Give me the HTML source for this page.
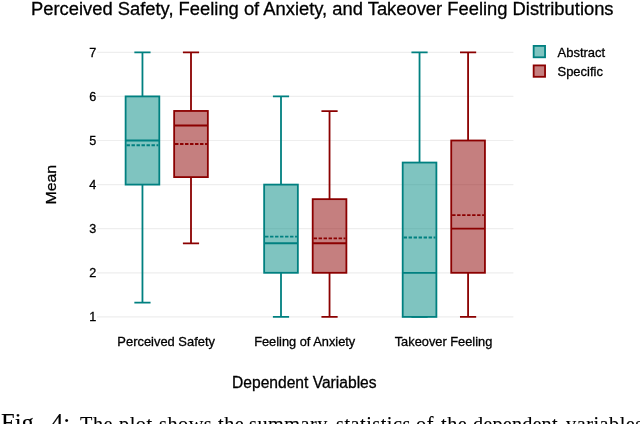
<!DOCTYPE html>
<html lang="en">
<head>
<meta charset="utf-8">
<title>Perceived Safety, Feeling of Anxiety, and Takeover Feeling Distributions</title>
<style>
html,body{margin:0;padding:0;background:#fff;}
body{width:640px;height:424px;overflow:hidden;position:relative;}
svg{position:absolute;left:0;top:0;display:block;will-change:transform;}
svg text{font-family:"Liberation Sans",Arial,Helvetica,sans-serif;fill:#000;stroke:#000;stroke-width:0.3px;}
.cap{position:absolute;will-change:transform;white-space:pre;font-family:"Liberation Serif","Times New Roman",serif;color:#000;line-height:1;-webkit-text-stroke:0.12px #000;}
</style>
</head>
<body>
<svg width="640" height="424" viewBox="0 0 640 424">
<rect width="640" height="424" fill="#fff"/>
<text x="322.3" y="15.0" text-anchor="middle" font-size="18.3" textLength="582.5" lengthAdjust="spacingAndGlyphs">Perceived Safety, Feeling of Anxiety, and Takeover Feeling Distributions</text>
<g stroke="#eeeeee" stroke-width="1.2">
<line x1="97.0" x2="513.4" y1="316.90" y2="316.90"/>
<line x1="97.0" x2="513.4" y1="272.80" y2="272.80"/>
<line x1="97.0" x2="513.4" y1="228.70" y2="228.70"/>
<line x1="97.0" x2="513.4" y1="184.60" y2="184.60"/>
<line x1="97.0" x2="513.4" y1="140.50" y2="140.50"/>
<line x1="97.0" x2="513.4" y1="96.40" y2="96.40"/>
<line x1="97.0" x2="513.4" y1="52.30" y2="52.30"/>
</g>
<g font-size="12.6" text-anchor="end">
<text x="96.2" y="321.30">1</text>
<text x="96.2" y="277.20">2</text>
<text x="96.2" y="233.10">3</text>
<text x="96.2" y="189.00">4</text>
<text x="96.2" y="144.90">5</text>
<text x="96.2" y="100.80">6</text>
<text x="96.2" y="56.70">7</text>
</g>
<g stroke="#008080" stroke-width="1.8" fill="none">
<path d="M142.46 96.40V52.30M134.36 52.30H150.56M142.46 184.60V302.57M134.36 302.57H150.56"/>
<rect x="125.61" y="96.40" width="33.70" height="88.20" fill="#008981" fill-opacity="0.5"/>
<path d="M125.61 140.50H159.31"/>
<path d="M126.51 145.22H158.41" stroke-width="1.9" stroke-dasharray="3.4 1.6"/>
</g>
<g stroke="#8b0000" stroke-width="1.8" fill="none">
<path d="M191.00 110.95V52.30M182.90 52.30H199.10M191.00 177.10V243.39M182.90 243.39H199.10"/>
<rect x="174.15" y="110.95" width="33.70" height="66.15" fill="#8b0000" fill-opacity="0.5"/>
<path d="M174.15 125.51H207.85"/>
<path d="M175.05 143.94H206.95" stroke-width="1.9" stroke-dasharray="3.4 1.6"/>
</g>
<g stroke="#008080" stroke-width="1.8" fill="none">
<path d="M281.00 184.60V96.40M272.90 96.40H289.10M281.00 272.80V316.90M272.90 316.90H289.10"/>
<rect x="264.15" y="184.60" width="33.70" height="88.20" fill="#008981" fill-opacity="0.5"/>
<path d="M264.15 243.25H297.85"/>
<path d="M265.05 236.64H296.95" stroke-width="1.9" stroke-dasharray="3.4 1.6"/>
</g>
<g stroke="#8b0000" stroke-width="1.8" fill="none">
<path d="M329.54 199.15V111.09M321.44 111.09H337.64M329.54 272.80V316.90M321.44 316.90H337.64"/>
<rect x="312.69" y="199.15" width="33.70" height="73.65" fill="#8b0000" fill-opacity="0.5"/>
<path d="M312.69 243.25H346.39"/>
<path d="M313.59 238.40H345.49" stroke-width="1.9" stroke-dasharray="3.4 1.6"/>
</g>
<g stroke="#008080" stroke-width="1.8" fill="none">
<path d="M419.54 162.55V52.30M411.44 52.30H427.64M419.54 316.90V316.90M411.44 316.90H427.64"/>
<rect x="402.69" y="162.55" width="33.70" height="154.35" fill="#008981" fill-opacity="0.5"/>
<path d="M402.69 272.80H436.39"/>
<path d="M403.59 237.52H435.49" stroke-width="1.9" stroke-dasharray="3.4 1.6"/>
</g>
<g stroke="#8b0000" stroke-width="1.8" fill="none">
<path d="M468.08 140.50V52.30M459.98 52.30H476.18M468.08 272.80V316.90M459.98 316.90H476.18"/>
<rect x="451.23" y="140.50" width="33.70" height="132.30" fill="#8b0000" fill-opacity="0.5"/>
<path d="M451.23 228.70H484.93"/>
<path d="M452.13 215.16H484.03" stroke-width="1.9" stroke-dasharray="3.4 1.6"/>
</g>
<g font-size="12.7" text-anchor="middle">
<text x="166.18" y="345.6" textLength="97.6" lengthAdjust="spacingAndGlyphs">Perceived Safety</text>
<text x="304.72" y="345.6" textLength="101.1" lengthAdjust="spacingAndGlyphs">Feeling of Anxiety</text>
<text x="443.51" y="345.6" textLength="97.6" lengthAdjust="spacingAndGlyphs">Takeover Feeling</text>
</g>
<text x="304.3" y="388.3" font-size="15.8" text-anchor="middle" textLength="144.6" lengthAdjust="spacingAndGlyphs">Dependent Variables</text>
<text transform="translate(56.4 184.7) rotate(-90)" font-size="15.4" text-anchor="middle" textLength="39.7" lengthAdjust="spacingAndGlyphs">Mean</text>
<rect x="533.65" y="45.9" width="11.4" height="11.4" fill="#008981" fill-opacity="0.5" stroke="#008080" stroke-width="1.8"/>
<rect x="533.65" y="65.4" width="11.4" height="11.4" fill="#8b0000" fill-opacity="0.5" stroke="#8b0000" stroke-width="1.8"/>
<text x="557.5" y="57" font-size="12.9" textLength="47.7" lengthAdjust="spacingAndGlyphs">Abstract</text>
<text x="557.5" y="76" font-size="12.9" textLength="45.4" lengthAdjust="spacingAndGlyphs">Specific</text>
</svg>
<div class="cap" style="left:1.4px;top:410.5px;font-size:24.5px;">Fig.</div>
<div class="cap" style="left:50.9px;top:410.5px;font-size:24.5px;">4:</div>
<div class="cap" style="left:79.90px;top:414.35px;font-size:20.3px;letter-spacing:0.5px;">The </div>
<div class="cap" style="left:118.85px;top:414.35px;font-size:20.3px;letter-spacing:0.5px;">plot </div>
<div class="cap" style="left:158.70px;top:414.35px;font-size:20.3px;letter-spacing:0.5px;">shows </div>
<div class="cap" style="left:218.45px;top:414.35px;font-size:20.3px;letter-spacing:0.5px;">the </div>
<div class="cap" style="left:249.20px;top:414.35px;font-size:20.3px;letter-spacing:0.5px;">summary </div>
<div class="cap" style="left:336.20px;top:414.35px;font-size:20.3px;letter-spacing:0.5px;">statistics </div>
<div class="cap" style="left:416.40px;top:414.35px;font-size:20.3px;letter-spacing:0.5px;">of </div>
<div class="cap" style="left:440.95px;top:414.35px;font-size:20.3px;letter-spacing:0.5px;">the </div>
<div class="cap" style="left:472.90px;top:414.35px;font-size:20.3px;letter-spacing:0.15px;">dependent </div>
<div class="cap" style="left:566.15px;top:414.35px;font-size:20.3px;letter-spacing:0.5px;">variables </div>
</body>
</html>
